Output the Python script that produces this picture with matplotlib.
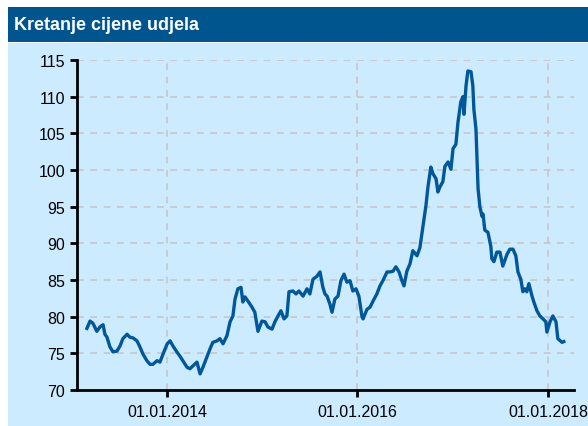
import pandas as pd
import matplotlib.pyplot as plt
import matplotlib.dates as mdates
from matplotlib.patches import Rectangle

plt.rcParams['font.family'] = ['Liberation Sans', 'DejaVu Sans']

title = 'Kretanje cijene udjela'

dates = [
    '2013-02-28', '2013-03-12', '2013-03-23', '2013-04-07', '2013-04-19', '2013-05-01',
    '2013-05-08', '2013-05-16', '2013-05-27', '2013-06-08', '2013-06-23', '2013-07-05',
    '2013-07-16', '2013-08-01', '2013-08-12', '2013-08-24', '2013-09-08', '2013-09-19',
    '2013-10-01', '2013-10-16', '2013-10-28', '2013-11-08', '2013-11-24', '2013-12-05',
    '2013-12-17', '2014-01-02', '2014-01-13', '2014-01-24', '2014-02-08', '2014-02-20',
    '2014-03-03', '2014-03-19', '2014-03-30', '2014-04-11', '2014-04-26', '2014-05-08',
    '2014-05-19', '2014-06-03', '2014-06-15', '2014-06-26', '2014-07-12', '2014-07-23',
    '2014-08-04', '2014-08-19', '2014-08-31', '2014-09-11', '2014-09-19', '2014-09-30',
    '2014-10-12', '2014-10-19', '2014-10-27', '2014-11-08', '2014-11-23', '2014-12-04',
    '2014-12-16', '2014-12-31', '2015-01-12', '2015-01-23', '2015-02-08', '2015-02-19',
    '2015-03-03', '2015-03-14', '2015-03-26', '2015-04-06', '2015-04-14', '2015-04-29',
    '2015-05-11', '2015-05-22', '2015-06-07', '2015-06-22', '2015-07-03', '2015-07-15',
    '2015-07-30', '2015-08-11', '2015-08-22', '2015-08-30', '2015-09-07', '2015-09-18',
    '2015-09-26', '2015-10-07', '2015-10-19', '2015-10-30', '2015-11-11', '2015-11-22',
    '2015-12-04', '2015-12-15', '2015-12-27', '2016-01-07', '2016-01-19', '2016-01-23',
    '2016-02-07', '2016-02-19', '2016-03-01', '2016-03-16', '2016-03-28', '2016-04-08',
    '2016-04-24', '2016-05-05', '2016-05-17', '2016-05-28', '2016-06-09', '2016-06-20',
    '2016-06-28', '2016-07-09', '2016-07-21', '2016-08-01', '2016-08-17', '2016-08-28',
    '2016-09-09', '2016-09-20', '2016-09-28', '2016-10-09', '2016-10-17', '2016-10-29',
    '2016-11-05', '2016-11-13', '2016-11-24', '2016-12-02', '2016-12-14', '2016-12-25',
    '2017-01-02', '2017-01-13', '2017-01-21', '2017-02-01', '2017-02-09', '2017-02-13',
    '2017-02-21', '2017-02-28', '2017-03-12', '2017-03-19', '2017-03-23', '2017-03-31',
    '2017-04-04', '2017-04-08', '2017-04-15', '2017-04-23', '2017-04-27', '2017-05-04',
    '2017-05-16', '2017-05-27', '2017-05-31', '2017-06-08', '2017-06-19', '2017-07-01',
    '2017-07-12', '2017-07-28', '2017-08-08', '2017-08-20', '2017-08-31', '2017-09-08',
    '2017-09-19', '2017-09-27', '2017-10-05', '2017-10-12', '2017-10-20', '2017-11-01',
    '2017-11-08', '2017-11-20', '2017-12-01', '2017-12-13', '2017-12-24', '2017-12-28',
    '2018-01-09', '2018-01-20', '2018-02-01', '2018-02-08', '2018-02-24', '2018-03-03',
]

prices = [
    78.4, 79.4, 79.1, 78.0, 78.6, 78.9,
    77.6, 77.2, 75.9, 75.2, 75.3, 76.0,
    77.0, 77.6, 77.2, 77.1, 76.7, 75.9,
    74.9, 74.0, 73.5, 73.5, 74.0, 73.8,
    74.9, 76.3, 76.7, 76.0, 75.2, 74.6,
    74.0, 73.1, 72.9, 73.3, 73.8, 72.2,
    73.1, 74.5, 75.6, 76.5, 76.7, 77.0,
    76.3, 77.4, 79.3, 80.1, 82.4, 83.8,
    84.0, 82.0, 82.7, 82.1, 81.3, 80.6,
    78.0, 79.4, 79.3, 78.6, 78.3, 79.3,
    80.1, 80.8, 79.7, 80.1, 83.4, 83.5,
    83.1, 83.5, 82.8, 83.8, 83.1, 85.1,
    85.5, 86.1, 84.0, 83.1, 82.8, 81.7,
    80.6, 82.4, 82.8, 84.9, 85.8, 84.7,
    84.9, 83.5, 83.8, 82.8, 80.0, 79.7,
    81.0, 81.3, 82.1, 83.1, 84.2, 84.9,
    86.1, 86.1, 86.2, 86.8, 86.1, 84.9,
    84.2, 86.2, 87.2, 89.0, 88.3, 89.4,
    92.4, 95.1, 97.7, 100.4, 99.5, 98.8,
    97.0, 97.7, 98.4, 100.5, 101.1, 100.1,
    102.9, 103.5, 106.5, 109.3, 110.0, 107.6,
    111.5, 113.5, 113.4, 111.5, 108.3, 105.6,
    101.5, 97.5, 95.0, 93.7, 94.0, 91.8,
    91.5, 89.6, 87.9, 87.5, 88.8, 88.8,
    86.9, 88.5, 89.2, 89.2, 88.3, 86.1,
    85.1, 83.4, 83.8, 83.4, 84.5, 82.8,
    82.0, 80.8, 80.1, 79.7, 79.3, 77.9,
    79.3, 80.1, 79.3, 77.0, 76.5, 76.6,
]

y_ticks = [70, 75, 80, 85, 90, 95, 100, 105, 110, 115]
x_ticks = ['2014-01-01', '2016-01-01', '2018-01-01']
x_range = ['2013-01-21', '2018-04-11']

bg = '#CCEBFF'
bar = '#00558F'
line_color = '#00589A'

fig = plt.figure(figsize=(5.88, 4.27), dpi=100)
fig.patch.set_facecolor('white')

# light blue panel and the title bar, drawn behind the axes
fig.patches.append(Rectangle((8 / 588, 0), 580 / 588, 383 / 427,
                             transform=fig.transFigure, facecolor=bg, edgecolor='none', zorder=-5))
fig.patches.append(Rectangle((8 / 588, 384 / 427), 580 / 588, 35 / 427,
                             transform=fig.transFigure, facecolor=bar, edgecolor='none', zorder=-5))
fig.text(14 / 588, 401.5 / 427, title, color='white', fontsize=13, fontweight='bold',
         va='center', ha='left')

ax = fig.add_axes([77 / 588, 36 / 427, 497 / 588, 330 / 427])
ax.set_zorder(2)
ax.set_facecolor(bg)

ax.plot(pd.to_datetime(dates), prices, color=line_color, linewidth=2.4, zorder=3)

ax.set_ylim(70, 115)
ax.set_yticks(y_ticks)
ax.set_xlim(pd.to_datetime(x_range[0]), pd.to_datetime(x_range[1]))
ax.set_xticks(pd.to_datetime(x_ticks))
ax.xaxis.set_major_formatter(mdates.DateFormatter('%d.%m.%Y'))

ax.grid(True, color='#C6C6C6', linestyle=(0, (4, 4)), linewidth=1.2)
for side in ['top', 'right']:
    ax.spines[side].set_visible(False)
for side in ['left', 'bottom']:
    ax.spines[side].set_linewidth(2)
    ax.spines[side].set_color('black')
ax.tick_params(axis='both', direction='out', length=5, width=2, labelsize=11.5, colors='black')
ax.tick_params(axis='x', pad=5)

fig.savefig('out.png', dpi=100, facecolor=fig.get_facecolor())
